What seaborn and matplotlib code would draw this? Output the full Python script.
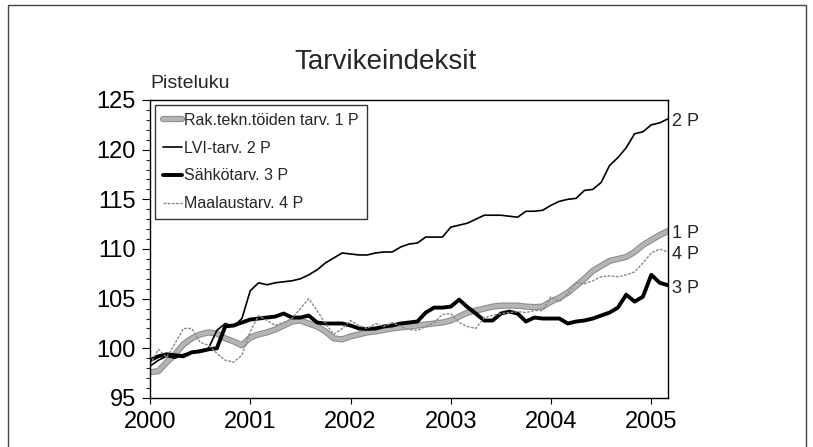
#!/usr/bin/env python

import numpy as np
import matplotlib
matplotlib.use('Agg')
import matplotlib.pyplot as plt
import matplotlib.patheffects as pe
from matplotlib.patches import Rectangle
from matplotlib.ticker import MultipleLocator
import seaborn as sns
import pandas as pd

# monthly index values, Jan 2000 .. Mar 2005
rak = [97.6, 97.7, 98.6, 99.4, 100.4, 101.0, 101.4, 101.6, 101.5, 101.0, 100.7, 100.3,
       101.1, 101.4, 101.6, 101.9, 102.3, 102.7, 102.8, 102.5, 102.2, 101.7, 101.0, 100.9,
       101.2, 101.4, 101.6, 101.7, 101.85, 102.0, 102.1, 102.2, 102.3, 102.4, 102.5, 102.6,
       102.8, 103.2, 103.6, 103.8, 104.0, 104.2, 104.3, 104.3, 104.3, 104.2, 104.15, 104.2,
       104.7, 105.1, 105.6, 106.3, 107.0, 107.8, 108.3, 108.8, 109.0, 109.2, 109.7, 110.4,
       110.9, 111.4, 111.8]
lvi = [98.2, 98.8, 99.2, 99.0, 99.4, 99.6, 99.8, 100.0, 101.8, 102.5, 102.2, 103.0,
       105.8, 106.6, 106.4, 106.6, 106.7, 106.8, 107.0, 107.4, 107.9, 108.6, 109.1, 109.6,
       109.5, 109.4, 109.4, 109.6, 109.7, 109.7, 110.2, 110.5, 110.6, 111.2, 111.2, 111.2,
       112.2, 112.4, 112.6, 113.0, 113.4, 113.4, 113.4, 113.3, 113.2, 113.8, 113.8, 113.9,
       114.4, 114.8, 115.0, 115.1, 115.9, 116.0, 116.7, 118.4, 119.2, 120.2, 121.6, 121.8,
       122.5, 122.7, 123.1]
sahko = [98.8, 99.2, 99.4, 99.3, 99.2, 99.6, 99.7, 99.9, 100.0, 102.2, 102.3, 102.6,
         102.9, 103.0, 103.1, 103.2, 103.5, 103.1, 103.1, 103.3, 102.6, 102.5, 102.5, 102.5,
         102.3, 102.0, 101.95, 102.0, 102.2, 102.3, 102.5, 102.6, 102.7, 103.6, 104.1, 104.1,
         104.2, 104.9, 104.15, 103.5, 102.8, 102.8, 103.5, 103.7, 103.5, 102.7, 103.1, 103.0,
         103.0, 103.0, 102.5, 102.7, 102.8, 103.0, 103.3, 103.6, 104.1, 105.4, 104.7, 105.2,
         107.4, 106.6, 106.35]
maalaus = [98.4, 99.9, 99.1, 100.5, 102.0, 102.0, 100.6, 100.3, 99.5, 98.8, 98.6, 99.3,
           101.7, 103.3, 102.8, 102.3, 102.6, 103.0, 104.0, 105.0, 103.8, 102.5, 101.4, 102.0,
           102.8, 102.3, 102.0, 102.5, 102.2, 102.6, 102.2, 101.9, 101.8, 102.2, 102.6, 103.4,
           103.5, 102.6, 102.2, 102.0, 103.1, 103.3, 103.5, 103.6, 103.7, 103.6, 103.8, 103.8,
           105.2, 104.7, 105.5, 106.6, 106.5, 106.8, 107.2, 107.3, 107.2, 107.4, 107.7, 108.6,
           109.6, 110.0, 109.7]

names = ['Rak.tekn.töiden tarv. 1 P', 'LVI-tarv. 2 P', 'Sähkötarv. 3 P', 'Maalaustarv. 4 P']
end_labels = ['1 P', '2 P', '3 P', '4 P']
years = [2000, 2001, 2002, 2003, 2004, 2005]

x = 2000 + np.arange(len(rak)) / 12.0
df = pd.DataFrame({'x': np.tile(x, 4),
                   'value': rak + lvi + sahko + maalaus,
                   'series': np.repeat(names, len(x))})

sns.set_style('white')
plt.rcParams['font.family'] = ['Liberation Sans', 'DejaVu Sans']

fig = plt.figure(figsize=(8.13, 4.47), dpi=100)
ax = fig.add_axes([150 / 813, 49 / 447, 518 / 813, 298 / 447])

styles = {
    names[0]: dict(color='#b4b4b4', lw=3.0,
                   path_effects=[pe.Stroke(linewidth=4.5, foreground='#8c8c8c'), pe.Normal()]),
    names[1]: dict(color='black', lw=1.2),
    names[2]: dict(color='black', lw=2.8),
    names[3]: dict(color='#8a8a8a', lw=1.0, dashes=(2, 1)),
}
for name in names:
    sub = df[df['series'] == name]
    sns.lineplot(data=sub, x='x', y='value', ax=ax, label=name, **styles[name])

ax.set_xlim(2000, x[-1])
ax.set_ylim(95, 125)
ax.set_xticks(years)
ax.set_xticklabels([str(y) for y in years])
ax.yaxis.set_major_locator(MultipleLocator(5))
ax.yaxis.set_minor_locator(MultipleLocator(1))
ax.tick_params(axis='both', labelsize=17, colors='black')
ax.tick_params(axis='y', which='major', left=True, length=6, width=0.8, direction='out', pad=4)
ax.tick_params(axis='y', which='minor', left=True, length=3, width=0.8, direction='out')
ax.tick_params(axis='x', which='major', bottom=True, length=4, width=0.8, direction='out', pad=5)
ax.set_xlabel('')
ax.set_ylabel('')
for s in ax.spines.values():
    s.set_color('black')
    s.set_linewidth(1.0)

leg = ax.legend(loc='upper left', fontsize=11.5, handlelength=1.2, handletextpad=0.15,
                borderaxespad=0.3, frameon=True, fancybox=False, labelspacing=0.8,
                borderpad=0.5)
leg.get_frame().set_edgecolor('black')
leg.get_frame().set_linewidth(1.0)

# end labels at the right edge
ends = [rak[-1], lvi[-1], sahko[-1], maalaus[-1]]
for lab, v in zip(end_labels, ends):
    ax.annotate(lab, xy=(x[-1], v), xytext=(3, -2), textcoords='offset points',
                va='center', ha='left', fontsize=13, annotation_clip=False)

fig.text(385 / 813, 1 - 62 / 447, 'Tarvikeindeksit', ha='center', va='center', fontsize=20)
fig.text(150 / 813, 1 - 83 / 447, 'Pisteluku', ha='left', va='center', fontsize=14)

# frame around the figure
fig.patches.append(Rectangle((8 / 813, -0.02), 798 / 813, 1.02 - 5 / 447,
                             transform=fig.transFigure, fill=False,
                             edgecolor='#444444', linewidth=1.0))

fig.savefig('out.png', dpi=100)
